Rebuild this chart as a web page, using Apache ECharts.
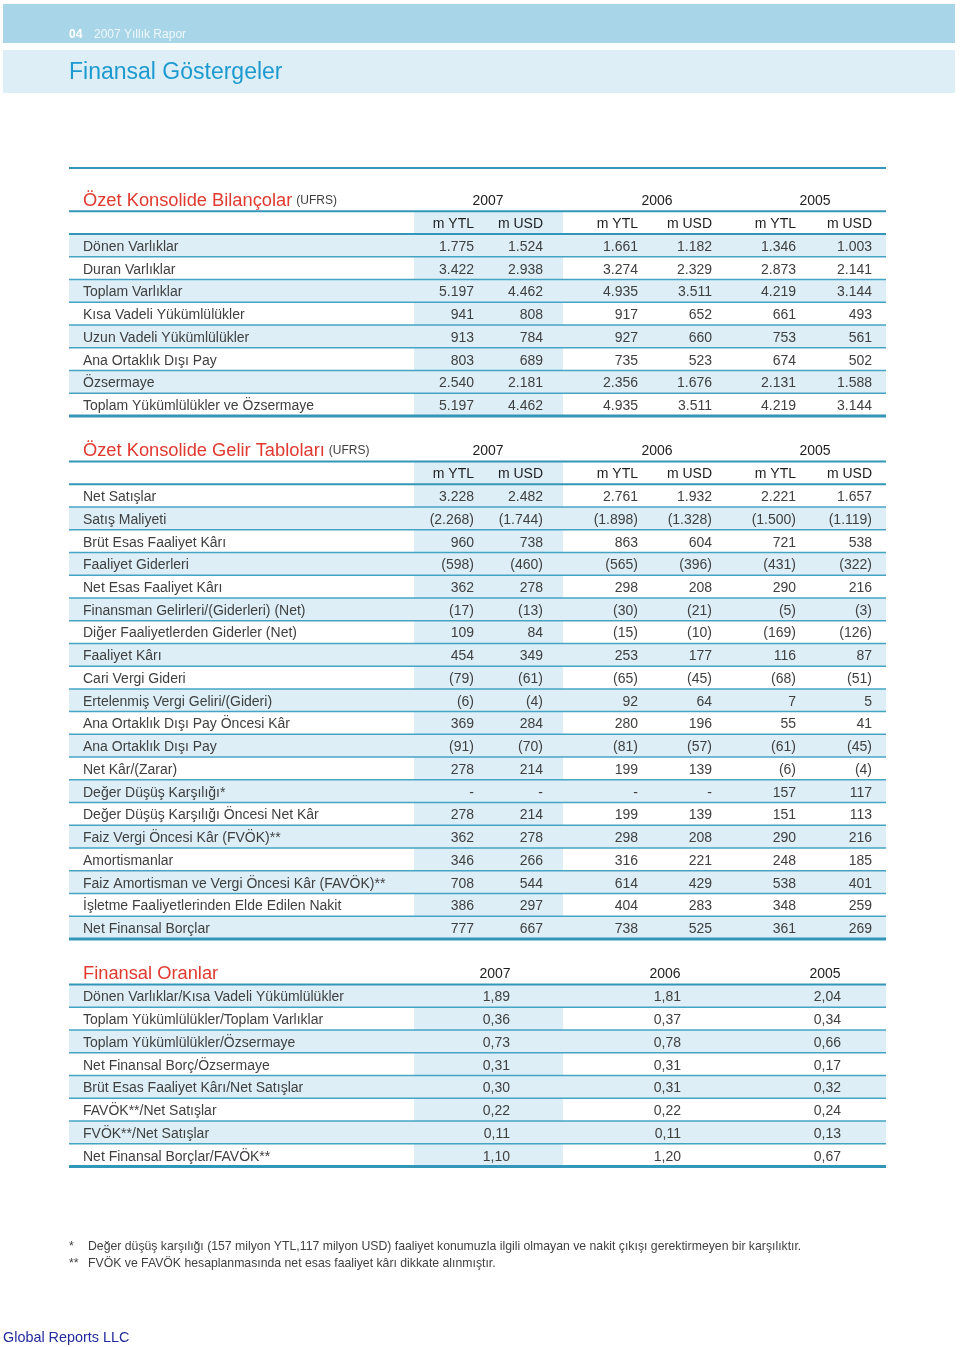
<!DOCTYPE html>
<html><head><meta charset="utf-8">
<script src="https://cdn.jsdelivr.net/npm/echarts@6/dist/echarts.min.js"></script>
<style>html,body{margin:0;padding:0;background:#fff}#c{width:960px;height:1347px}</style>
</head><body><div id="c"></div>
<script>
// ---------------- DATA ----------------
const years = ['2007', '2006', '2005'];
const units = ['m YTL', 'm USD'];

const bsTitle = 'Özet Konsolide Bilançolar';
const isTitle = 'Özet Konsolide Gelir Tabloları';
const ratioTitle = 'Finansal Oranlar';
const standardNote = '(UFRS)';

const bsLabels = ['Dönen Varlıklar', 'Duran Varlıklar', 'Toplam Varlıklar', 'Kısa Vadeli Yükümlülükler',
  'Uzun Vadeli Yükümlülükler', 'Ana Ortaklık Dışı Pay', 'Özsermaye', 'Toplam Yükümlülükler ve Özsermaye'];
// columns: 2007 YTL, 2007 USD, 2006 YTL, 2006 USD, 2005 YTL, 2005 USD
const bsValues = [
  [1775, 1524, 1661, 1182, 1346, 1003],
  [3422, 2938, 3274, 2329, 2873, 2141],
  [5197, 4462, 4935, 3511, 4219, 3144],
  [941, 808, 917, 652, 661, 493],
  [913, 784, 927, 660, 753, 561],
  [803, 689, 735, 523, 674, 502],
  [2540, 2181, 2356, 1676, 2131, 1588],
  [5197, 4462, 4935, 3511, 4219, 3144]
];

const isLabels = ['Net Satışlar', 'Satış Maliyeti', 'Brüt Esas Faaliyet Kârı', 'Faaliyet Giderleri',
  'Net Esas Faaliyet Kârı', 'Finansman Gelirleri/(Giderleri) (Net)', 'Diğer Faaliyetlerden Giderler (Net)',
  'Faaliyet Kârı', 'Cari Vergi Gideri', 'Ertelenmiş Vergi Geliri/(Gideri)', 'Ana Ortaklık Dışı Pay Öncesi Kâr',
  'Ana Ortaklık Dışı Pay', 'Net Kâr/(Zarar)', 'Değer Düşüş Karşılığı*', 'Değer Düşüş Karşılığı Öncesi Net Kâr',
  'Faiz Vergi Öncesi Kâr (FVÖK)**', 'Amortismanlar', 'Faiz Amortisman ve Vergi Öncesi Kâr (FAVÖK)**',
  'İşletme Faaliyetlerinden Elde Edilen Nakit', 'Net Finansal Borçlar'];
const isValues = [
  [3228, 2482, 2761, 1932, 2221, 1657],
  [-2268, -1744, -1898, -1328, -1500, -1119],
  [960, 738, 863, 604, 721, 538],
  [-598, -460, -565, -396, -431, -322],
  [362, 278, 298, 208, 290, 216],
  [-17, -13, -30, -21, -5, -3],
  [109, 84, -15, -10, -169, -126],
  [454, 349, 253, 177, 116, 87],
  [-79, -61, -65, -45, -68, -51],
  [-6, -4, 92, 64, 7, 5],
  [369, 284, 280, 196, 55, 41],
  [-91, -70, -81, -57, -61, -45],
  [278, 214, 199, 139, -6, -4],
  [null, null, null, null, 157, 117],
  [278, 214, 199, 139, 151, 113],
  [362, 278, 298, 208, 290, 216],
  [346, 266, 316, 221, 248, 185],
  [708, 544, 614, 429, 538, 401],
  [386, 297, 404, 283, 348, 259],
  [777, 667, 738, 525, 361, 269]
];

const ratioLabels = ['Dönen Varlıklar/Kısa Vadeli Yükümlülükler', 'Toplam Yükümlülükler/Toplam Varlıklar',
  'Toplam Yükümlülükler/Özsermaye', 'Net Finansal Borç/Özsermaye', 'Brüt Esas Faaliyet Kârı/Net Satışlar',
  'FAVÖK**/Net Satışlar', 'FVÖK**/Net Satışlar', 'Net Finansal Borçlar/FAVÖK**'];
// columns: 2007, 2006, 2005
const ratioValues = [
  [1.89, 1.81, 2.04],
  [0.36, 0.37, 0.34],
  [0.73, 0.78, 0.66],
  [0.31, 0.31, 0.17],
  [0.30, 0.31, 0.32],
  [0.22, 0.22, 0.24],
  [0.11, 0.11, 0.13],
  [1.10, 1.20, 0.67]
];

const footnotes = [
  ['*', 'Değer düşüş karşılığı (157 milyon YTL,117 milyon USD) faaliyet konumuzla ilgili olmayan ve nakit çıkışı gerektirmeyen bir karşılıktır.'],
  ['**', 'FVÖK ve FAVÖK hesaplanmasında net esas faaliyet kârı dikkate alınmıştır.']
];

// ---------------- LAYOUT / STYLE ----------------
const FONT = "'Liberation Sans', Arial, Helvetica, sans-serif";
const SHADE = '#ddeef6';
const LINE = '#45a3c4';
const LINE_DARK = '#3296b8';
const RED = '#e0392f';
const TXT = '#3f3f3f';
const HEAD = '#1e1e1e';
const TABLE_L = 69, TABLE_R = 886, LABEL_X = 83;
const SHADE_L = 414, SHADE_R = 563;
const SIX_RIGHT = [474, 543, 638, 712, 796, 872];
const SIX_YEAR_C = [488, 657, 815];
const RATIO_RIGHT = [510, 681, 841];
const RATIO_YEAR_C = [495, 665, 825];
const SLOTS = 43;
const TEXT_DY = 1.6;

function fmtInt(v) {
  if (v === null || v === undefined) return '-';
  const s = Math.abs(v).toString().replace(/\B(?=(\d{3})+(?!\d))/g, '.');
  return v < 0 ? '(' + s + ')' : s;
}
function fmtRatio(v) { return v.toFixed(2).replace('.', ','); }

// Build row list on slot grid
const rows = [];
let slot = 0;
function addSection(title, note, labels, values, kind, fullShadeParity) {
  rows.push({ slot: slot++, type: 'title', title, note, kind });
  if (kind === 'six') rows.push({ slot: slot++, type: 'units' });
  labels.forEach((lab, i) => {
    rows.push({ slot: slot++, type: 'row', label: lab, vals: values[i], kind,
      full: i % 2 === fullShadeParity, last: i === labels.length - 1 });
  });
  slot++; // gap
}
addSection(bsTitle, standardNote, bsLabels, bsValues, 'six', 0);
addSection(isTitle, standardNote, isLabels, isValues, 'six', 1);
addSection(ratioTitle, '', ratioLabels, ratioValues, 'ratio', 0);

function renderItem(params, api) {
  const r = rows[params.dataIndex];
  const c = api.coord([0, r.slot]);
  const h = api.size([0, 1])[1];
  const cy = c[1], top = cy - h / 2, bot = cy + h / 2;
  const X = v => api.coord([v, r.slot])[0];
  const L = X(TABLE_L), R = X(TABLE_R);
  const kids = [];
  const line = (w, col) => kids.push({ type: 'rect', z2: 5,
    shape: { x: L, y: bot - w / 2, width: R - L, height: w }, style: { fill: col } });
  const text = (t, x, align, size, color, extra) => kids.push({ type: 'text', z2: 10,
    style: Object.assign({ text: t, x: x, y: cy + TEXT_DY, align: align, verticalAlign: 'middle',
      fontSize: size, fontFamily: FONT, fill: color }, extra || {}) });

  if (r.type === 'title') {
    kids.push({ type: 'text', z2: 10, style: {
      text: '{t|' + r.title + '}' + (r.note ? '{s| }{n|' + r.note + '}' : ''),
      x: X(LABEL_X), y: cy + 0.5, align: 'left', verticalAlign: 'middle',
      rich: { t: { fontSize: 18.3, fontFamily: FONT, fill: RED },
              s: { fontSize: 14, fontFamily: FONT, fill: TXT },
              n: { fontSize: 12, fontFamily: FONT, fill: TXT } } } });
    const cs = r.kind === 'six' ? SIX_YEAR_C : RATIO_YEAR_C;
    years.forEach((y, i) => text(y, X(cs[i]), 'center', 14, HEAD, { y: cy + 1.5 }));
    line(2, LINE_DARK);
  } else if (r.type === 'units') {
    kids.push({ type: 'rect', z2: 0, shape: { x: X(SHADE_L), y: top, width: X(SHADE_R) - X(SHADE_L), height: h }, style: { fill: SHADE } });
    SIX_RIGHT.forEach((x, i) => text(units[i % 2], X(x), 'right', 14, HEAD));
    line(2, LINE_DARK);
  } else {
    if (r.full) {
      kids.push({ type: 'rect', z2: 0, shape: { x: L, y: top, width: R - L, height: h }, style: { fill: SHADE } });
    } else {
      kids.push({ type: 'rect', z2: 0, shape: { x: X(SHADE_L), y: top, width: X(SHADE_R) - X(SHADE_L), height: h }, style: { fill: SHADE } });
    }
    text(r.label, X(LABEL_X), 'left', 14, TXT);
    if (r.kind === 'six') {
      r.vals.forEach((v, i) => text(fmtInt(v), X(SIX_RIGHT[i]), 'right', 14, TXT));
    } else {
      r.vals.forEach((v, i) => text(fmtRatio(v), X(RATIO_RIGHT[i]), 'right', 14, TXT));
    }
    if (r.last) line(3, LINE_DARK); else line(1.5, LINE);
  }
  return { type: 'group', children: kids };
}

const chart = echarts.init(document.getElementById('c'), null, { renderer: 'canvas' });
const slotTop = 188.6, slotH = 22.74;
chart.setOption({
  animation: false,
  backgroundColor: '#ffffff',
  grid: { left: 0, right: 0, top: slotTop, height: SLOTS * slotH },
  xAxis: { type: 'value', min: 0, max: 960, show: false },
  yAxis: { type: 'category', inverse: true, show: false,
    data: Array.from({ length: SLOTS }, (_, i) => 's' + i) },
  series: [{
    type: 'custom', renderItem: renderItem, clip: false,
    data: rows.map(r => [0, r.slot]), encode: { x: 0, y: 1 }
  }],
  graphic: [
    { type: 'rect', left: 3, top: 4, shape: { width: 952, height: 39 }, style: { fill: '#a8d6e8' }, silent: true },
    { type: 'rect', left: 3, top: 50, shape: { width: 952, height: 43 }, style: { fill: '#ddeef6' }, silent: true },
    { type: 'text', left: 69, top: 29, style: { text: '04', fontSize: 12, fontWeight: 'bold', fontFamily: FONT, fill: '#ffffff' } },
    { type: 'text', left: 94, top: 29, style: { text: '2007 Yıllık Rapor', fontSize: 12, fontFamily: FONT, fill: '#eef7fb' } },
    { type: 'text', left: 69, top: 61, style: { text: 'Finansal Göstergeler', fontSize: 23, fontFamily: FONT, fill: '#1d9ad0' } },
    { type: 'rect', left: 69, top: 167, shape: { width: 817, height: 2 }, style: { fill: LINE_DARK } },
    { type: 'text', left: 69, top: 1241, style: { text: footnotes[0][0], fontSize: 12.25, fontFamily: FONT, fill: TXT } },
    { type: 'text', left: 88, top: 1241, style: { text: footnotes[0][1], fontSize: 12.25, fontFamily: FONT, fill: TXT } },
    { type: 'text', left: 69, top: 1258, style: { text: footnotes[1][0], fontSize: 12.25, fontFamily: FONT, fill: TXT } },
    { type: 'text', left: 88, top: 1258, style: { text: footnotes[1][1], fontSize: 12.25, fontFamily: FONT, fill: TXT } },
    { type: 'text', left: 3, top: 1331, style: { text: 'Global Reports LLC', fontSize: 14.4, fontFamily: FONT, fill: '#232a9c' } }
  ]
});
</script></body></html>
